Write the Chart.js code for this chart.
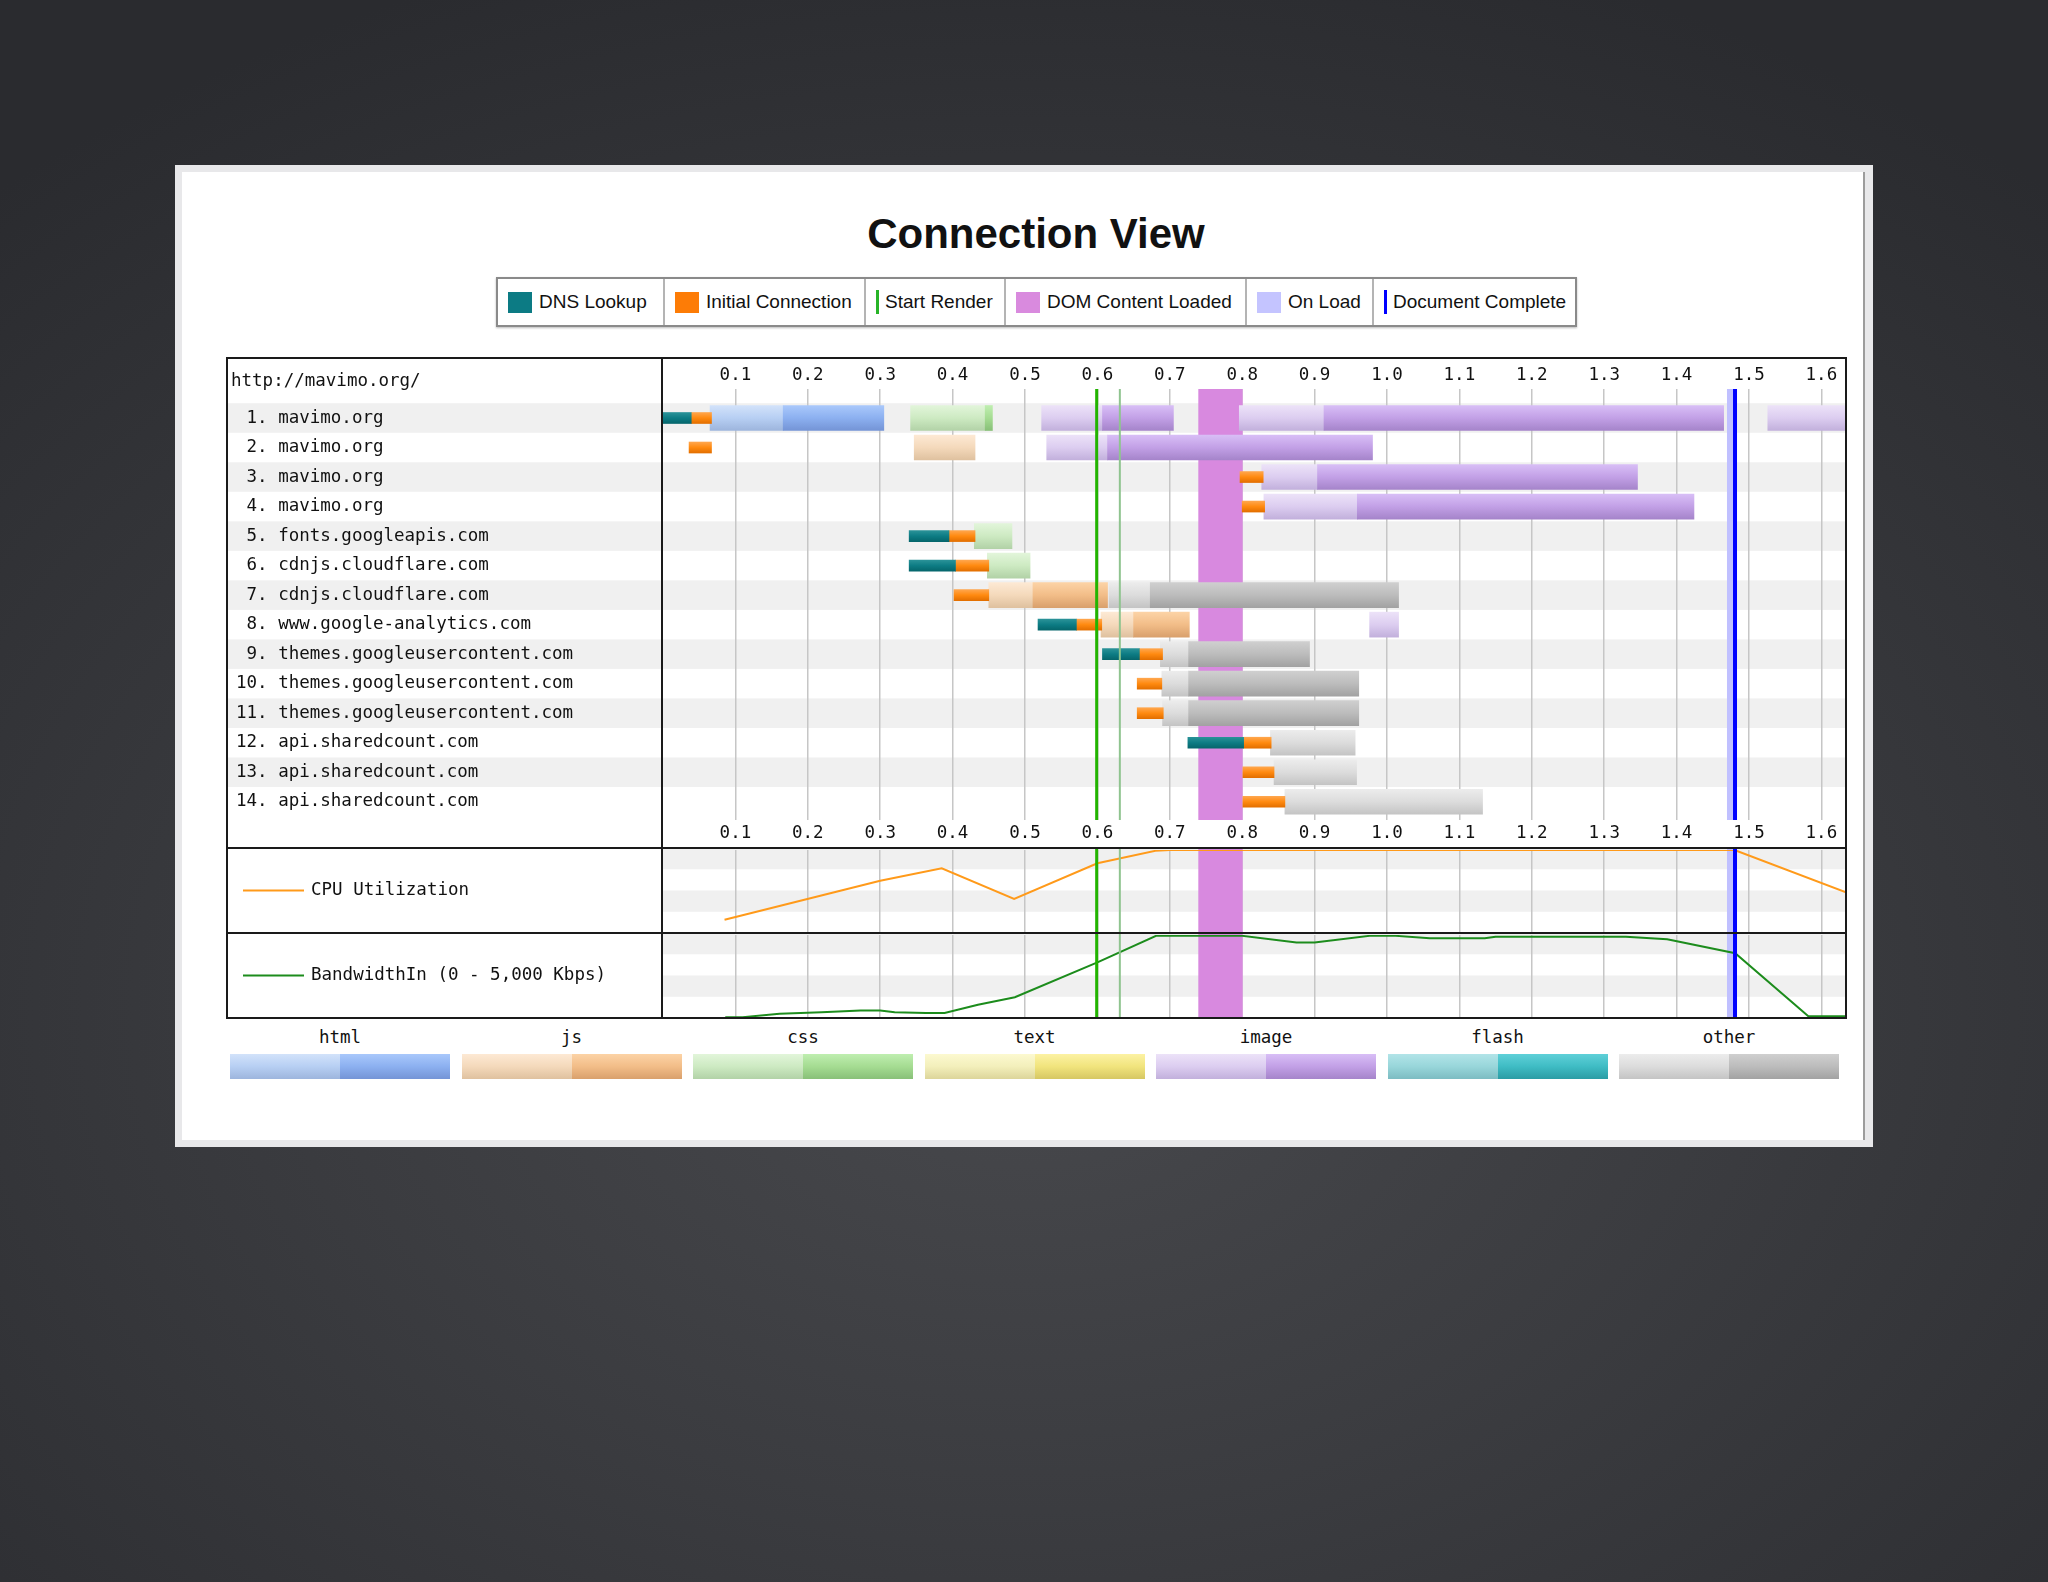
<!DOCTYPE html>
<html>
<head>
<meta charset="utf-8">
<script src="https://cdn.jsdelivr.net/npm/chart.js@4.4.1/dist/chart.umd.min.js"></script>
<style>
  body { margin: 0; width: 2048px; height: 1582px; overflow: hidden; position: relative;
         background: radial-gradient(ellipse 75% 70% at 50% 64%, #48494d 0%, #3b3c40 45%, #2a2b2f 100%);
         font-family: 'Liberation Sans', Arial, sans-serif; }
  .abs { position: absolute; }
  #panel { left: 175px; top: 165px; width: 1698px; height: 982px; background: #e8e8ea; }
  #inner { left: 182px; top: 172px; width: 1681px; height: 968px; background: #fff; border-right: 2px solid #9c9c9c; }
  #title { left: 175px; width: 1722px; top: 210px; line-height: 52px; text-align: center;
           font: bold 42px 'Liberation Sans', Arial, sans-serif; color: #111; }
  #legend { left: 496px; top: 277px; width: 1081px; height: 50px; box-sizing: border-box;
            border: 2px solid #8a8a8a; display: flex; background: #fff; box-shadow: 0 1px 2px #bbb; }
  .cell { box-sizing: border-box; height: 100%; display: flex; align-items: center; padding-left: 10px;
          font-size: 19px; color: #111; border-left: 2px solid #b4b4b4; white-space: nowrap; }
  .cell:first-child { border-left: none; }
  .sw { display: inline-block; width: 24px; height: 21px; margin-right: 7px; }
  .bar { display: inline-block; width: 3px; height: 24px; margin-right: 6px; }
  canvas { position: absolute; }
  .line { position: absolute; background: #1a1a1a; }
  .tlabel { position: absolute; top: 1027px; height: 22px; line-height: 22px; text-align: center;
            font: 17.5px 'DejaVu Sans Mono', monospace; color: #111; }
  .tsw { position: absolute; top: 1054px; height: 25px; display: flex; }
  .tsw div { flex: 1; }
</style>
</head>
<body>
<div id="panel" class="abs"></div>
<div id="inner" class="abs"></div>
<div id="title" class="abs">Connection View</div>
<div id="legend" class="abs">
  <div class="cell" style="width:165px"><span class="sw" style="background:#0c7b84"></span>DNS Lookup</div>
  <div class="cell" style="width:201px"><span class="sw" style="background:#fd7c06"></span>Initial Connection</div>
  <div class="cell" style="width:140px"><span class="bar" style="background:#28b428"></span>Start Render</div>
  <div class="cell" style="width:241px"><span class="sw" style="background:#d98ade"></span>DOM Content Loaded</div>
  <div class="cell" style="width:127px"><span class="sw" style="background:#c4c4ff"></span>On Load</div>
  <div class="cell" style="width:203px"><span class="bar" style="background:#0000ff"></span>Document Complete</div>
</div>

<canvas id="waterfall" width="1620" height="489" style="left:226px;top:359px"></canvas>
<canvas id="cpu" width="1620" height="85" style="left:226px;top:848px"></canvas>
<canvas id="bw" width="1620" height="85" style="left:226px;top:933px"></canvas>

<div class="line" style="left:226px;top:357px;width:1621px;height:2px"></div>
<div class="line" style="left:226px;top:1017px;width:1621px;height:2px"></div>
<div class="line" style="left:226px;top:357px;width:2px;height:662px"></div>
<div class="line" style="left:1845px;top:357px;width:2px;height:662px"></div>
<div class="line" style="left:661px;top:357px;width:2px;height:662px"></div>
<div class="line" style="left:226px;top:847px;width:1621px;height:2px"></div>
<div class="line" style="left:226px;top:932px;width:1621px;height:2px"></div>

<div id="types"></div>

<script>
const hosts = [
  'mavimo.org', 'mavimo.org', 'mavimo.org', 'mavimo.org',
  'fonts.googleapis.com', 'cdnjs.cloudflare.com', 'cdnjs.cloudflare.com',
  'www.google-analytics.com', 'themes.googleusercontent.com',
  'themes.googleusercontent.com', 'themes.googleusercontent.com',
  'api.sharedcount.com', 'api.sharedcount.com', 'api.sharedcount.com'
]
const timeTicks = [0.1, 0.2, 0.3, 0.4, 0.5, 0.6, 0.7, 0.8, 0.9, 1.0, 1.1, 1.2, 1.3, 1.4, 1.5, 1.6]
const timeMax = 1.634

// [row, start, end] in seconds
const dnsTimes = [[1, 0, 0.039], [5, 0.340, 0.395], [6, 0.340, 0.404], [8, 0.518, 0.571], [9, 0.607, 0.658], [12, 0.725, 0.802]]
const connectTimes = [
  [1, 0.039, 0.067], [2, 0.036, 0.067], [3, 0.797, 0.829], [4, 0.800, 0.831], [5, 0.395, 0.431],
  [6, 0.404, 0.450], [7, 0.402, 0.450], [8, 0.571, 0.606], [9, 0.658, 0.690], [10, 0.655, 0.689],
  [11, 0.655, 0.691], [12, 0.802, 0.840], [13, 0.801, 0.844], [14, 0.801, 0.859]
]
// [row, start, first byte, end]
const htmlReq = [[1, 0.065, 0.166, 0.305]]
const jsReq = [[2, 0.347, 0.431, 0.431], [7, 0.450, 0.511, 0.614], [8, 0.605, 0.650, 0.727]]
const cssReq = [[1, 0.342, 0.445, 0.455], [5, 0.430, 0.482, 0.482], [6, 0.448, 0.507, 0.507]]
const textReq = []
const imageReq = [
  [1, 0.523, 0.607, 0.705], [1, 0.796, 0.913, 1.465], [1, 1.526, 1.64, 1.64], [2, 0.530, 0.614, 0.980],
  [3, 0.827, 0.904, 1.346], [4, 0.830, 0.959, 1.424], [8, 0.976, 1.016, 1.016]
]
const flashReq = []
const otherReq = [
  [7, 0.616, 0.673, 1.016], [9, 0.687, 0.726, 0.893], [10, 0.689, 0.726, 0.961], [11, 0.690, 0.726, 0.961],
  [12, 0.839, 0.956, 0.956], [13, 0.844, 0.958, 0.958], [14, 0.859, 1.132, 1.132]
]

const startRender = 0.599
const firstPaint = 0.631
const domContentLoaded = [0.7394, 0.8007]
const onLoad = [1.4696, 1.481]
const docComplete = 1.4807

const cpuTimes = [0.085, 0.30, 0.385, 0.485, 0.60, 0.68, 0.70, 1.48, 1.634]
const cpuPercent = [16, 63, 78, 41, 84, 99, 100, 100, 49]
const bwTimes = [0.086, 0.11, 0.161, 0.219, 0.273, 0.30, 0.32, 0.363, 0.389, 0.435, 0.486, 0.60, 0.681,
  0.80, 0.875, 0.90, 0.976, 1.012, 1.059, 1.135, 1.15, 1.33, 1.387, 1.481, 1.582, 1.634]
const bwKbps = [50, 50, 250, 350, 450, 450, 350, 300, 300, 800, 1250, 3350, 4950,
  4950, 4550, 4550, 4950, 4950, 4800, 4800, 4900, 4900, 4750, 3900, 100, 100]
const bwMax = 5000

// ---- styling ----
const mono = {family: "'DejaVu Sans Mono', monospace", size: 17.5}
const typeNames = ['html', 'js', 'css', 'text', 'image', 'flash', 'other']
const typeColors = {
  html: {light: ['#d2e2fa', '#b7cff3', '#9db5dd'], dark: ['#a9c8fb', '#8cb0f0', '#7494d6']},
  js: {light: ['#fde9d4', '#f4d9bb', '#dfc19f'], dark: ['#fcd3a6', '#f2bd88', '#d9a06c']},
  css: {light: ['#e2f5da', '#cdeac2', '#b2d2a7'], dark: ['#bfeeb0', '#a5dc92', '#88c078']},
  text: {light: ['#fcf9d0', '#f3efbb', '#dcd59a'], dark: ['#fcf2a4', '#f1e47d', '#d6c763']},
  image: {light: ['#ece2f8', '#dccdf0', '#c2b0dc'], dark: ['#d8bef6', '#c2a0e6', '#a584ca']},
  flash: {light: ['#b2e4e8', '#98d6da', '#7cbcc2'], dark: ['#5fd0d8', '#3fbcc4', '#2a9ca4']},
  other: {light: ['#ececec', '#dcdcdc', '#c4c4c4'], dark: ['#cfcfcf', '#bcbcbc', '#a2a2a2']}
}
const dnsColor = ['#2a9298', '#0d7c84', '#05666c']
const connectColor = ['#ffa64d', '#ff8a10', '#e36f00']

const barFill = (stops, thick) => (ctx) => {
  const chart = ctx.chart
  if (!chart.chartArea || ctx.type !== 'data') return stops[1]
  const yc = chart.scales.y.getPixelForValue(ctx.raw.y)
  const g = chart.ctx.createLinearGradient(0, yc - thick / 2, 0, yc + thick / 2)
  g.addColorStop(0, stops[0])
  g.addColorStop(0.5, stops[1])
  g.addColorStop(1, stops[2])
  return g
}

const barSet = (rows, stops, thick) => ({
  data: rows.map(r => ({y: r[0], x: [r[1], r[2]]})),
  backgroundColor: barFill(stops, thick),
  barThickness: thick,
  grouped: false,
  borderWidth: 0
})

const requests = {html: htmlReq, js: jsReq, css: cssReq, text: textReq, image: imageReq, flash: flashReq, other: otherReq}
const datasets = [barSet(dnsTimes, dnsColor, 11), barSet(connectTimes, connectColor, 11)]
typeNames.forEach(t => {
  const reqs = requests[t]
  const light = reqs.filter(r => r[2] > r[1]).map(r => [r[0], r[1], r[2]])
  const dark = reqs.filter(r => r[3] > r[2]).map(r => [r[0], r[2], r[3]])
  if (dark.length) datasets.push(barSet(dark, typeColors[t].dark, 25))
  if (light.length) datasets.push(barSet(light, typeColors[t].light, 25))
})

// ---- timing marks shared by the three panels ----
const eventBands = (chart, top, bottom) => {
  const {ctx, scales: {x}} = chart
  ctx.save()
  ctx.fillStyle = '#d889df'
  let a = x.getPixelForValue(domContentLoaded[0]), b = x.getPixelForValue(domContentLoaded[1])
  ctx.fillRect(a, top, b - a, bottom - top)
  ctx.fillStyle = '#c0c0ff'
  a = x.getPixelForValue(onLoad[0]); b = x.getPixelForValue(onLoad[1])
  ctx.fillRect(a, top, b - a, bottom - top)
  ctx.restore()
}
const eventLines = (chart, top, bottom) => {
  const {ctx, scales: {x}} = chart
  const vline = (t, color, w) => {
    const px = x.getPixelForValue(t)
    ctx.fillStyle = color
    ctx.fillRect(px - w / 2, top, w, bottom - top)
  }
  ctx.save()
  vline(firstPaint, '#8fc48f', 2)
  vline(startRender, '#22b400', 3)
  vline(docComplete, '#0000ff', 4)
  ctx.restore()
}

const waterfallDecor = {
  id: 'waterfallDecor',
  beforeDraw(chart) {
    const {ctx, scales: {y}} = chart
    ctx.save()
    ctx.fillStyle = '#f0f0f0'
    hosts.forEach((h, i) => {
      if (i % 2) return
      const top = y.getPixelForValue(i + 0.5)
      const bottom = y.getPixelForValue(i + 1.5)
      ctx.fillRect(0, top, chart.width, bottom - top)
    })
    ctx.fillStyle = '#111'
    ctx.font = `${mono.size}px ${mono.family}`
    ctx.textBaseline = 'middle'
    ctx.fillText('http://mavimo.org/', 5, 22)
    ctx.restore()
  },
  beforeDatasetsDraw(chart) {
    eventBands(chart, chart.chartArea.top, chart.chartArea.bottom)
  },
  afterDatasetsDraw(chart) {
    eventLines(chart, chart.chartArea.top, chart.chartArea.bottom)
  }
}

const timeAxis = (position, height, grid) => ({
  type: 'linear', position, min: 0, max: timeMax, offset: false,
  afterBuildTicks: s => { s.ticks = timeTicks.map(v => ({value: v})) },
  afterFit: s => { s.height = height },
  ticks: {callback: v => v.toFixed(1), font: mono, color: '#111', padding: 3, maxRotation: 0, autoSkip: false},
  grid: grid ? {color: '#c6c6c6', lineWidth: 1.5, drawTicks: false, offset: false} : {display: false, drawTicks: false},
  border: {display: false}
})

new Chart(document.getElementById('waterfall'), {
  type: 'bar',
  data: {datasets},
  options: {
    indexAxis: 'y',
    responsive: false,
    animation: false,
    devicePixelRatio: 1,
    layout: {padding: {left: 10}},
    plugins: {legend: {display: false}, tooltip: {enabled: false}},
    scales: {
      x: timeAxis('top', 30, true),
      x2: timeAxis('bottom', 28, false),
      y: {
        type: 'linear', reverse: true, min: 0.0176, max: 14.618, offset: false,
        afterBuildTicks: s => { s.ticks = hosts.map((h, i) => ({value: i + 1})) },
        afterFit: s => { s.width = 427 },
        ticks: {
          callback: v => `${String(v).padStart(2, ' ')}. ${hosts[v - 1]}`,
          crossAlign: 'far', font: mono, color: '#111', autoSkip: false
        },
        grid: {display: false, offset: false},
        border: {display: false}
      }
    }
  },
  plugins: [waterfallDecor]
})

const panelDecor = (label, color) => ({
  id: 'panelDecor',
  beforeDraw(chart) {
    const {ctx, chartArea: a} = chart
    ctx.save()
    ctx.fillStyle = '#f0f0f0'
    const q = chart.height / 4
    ctx.fillRect(a.left, 0, a.right - a.left, q)
    ctx.fillRect(a.left, 2 * q, a.right - a.left, q)
    ctx.fillStyle = color
    ctx.fillRect(17, chart.height / 2 - 1, 61, 2)
    ctx.fillStyle = '#111'
    ctx.font = `${mono.size}px ${mono.family}`
    ctx.textBaseline = 'middle'
    ctx.fillText(label, 85, chart.height / 2)
    ctx.restore()
  },
  beforeDatasetsDraw(chart) { eventBands(chart, 0, chart.height) },
  afterDatasetsDraw(chart) { eventLines(chart, 0, chart.height) }
})

const sidePanel = (id, times, values, yMax, color, label) => new Chart(document.getElementById(id), {
  type: 'line',
  data: {
    datasets: [{
      data: times.map((t, i) => ({x: t, y: values[i]})),
      borderColor: color, borderWidth: 2, pointRadius: 0, tension: 0, fill: false
    }]
  },
  options: {
    responsive: false,
    animation: false,
    devicePixelRatio: 1,
    layout: {padding: {left: 437, top: 2}},
    plugins: {legend: {display: false}, tooltip: {enabled: false}},
    scales: {
      x: {
        type: 'linear', min: 0, max: timeMax, offset: false,
        afterBuildTicks: s => { s.ticks = timeTicks.map(v => ({value: v})) },
        afterFit: s => { s.height = 0 },
        ticks: {display: false},
        grid: {color: '#c6c6c6', lineWidth: 1.5, drawTicks: false},
        border: {display: false}
      },
      y: {min: 0, max: yMax, display: false}
    }
  },
  plugins: [panelDecor(label, color)]
})

sidePanel('cpu', cpuTimes, cpuPercent, 100, '#ff9a1a', 'CPU Utilization')
sidePanel('bw', bwTimes, bwKbps, bwMax, '#1c8c1c', 'BandwidthIn (0 - 5,000 Kbps)')

// ---- content type key under the chart ----
const types = document.getElementById('types')
typeNames.forEach((t, i) => {
  const left = 230 + i * 231.5
  const lab = document.createElement('div')
  lab.className = 'tlabel'
  lab.style.left = left + 'px'
  lab.style.width = '220px'
  lab.textContent = t
  types.appendChild(lab)
  const sw = document.createElement('div')
  sw.className = 'tsw'
  sw.style.left = left + 'px'
  sw.style.width = '220px'
  const c = typeColors[t]
  sw.innerHTML = `<div style="background:linear-gradient(${c.light[0]},${c.light[1]} 50%,${c.light[2]})"></div>` +
    `<div style="background:linear-gradient(${c.dark[0]},${c.dark[1]} 50%,${c.dark[2]})"></div>`
  types.appendChild(sw)
})
</script>
</body>
</html>
